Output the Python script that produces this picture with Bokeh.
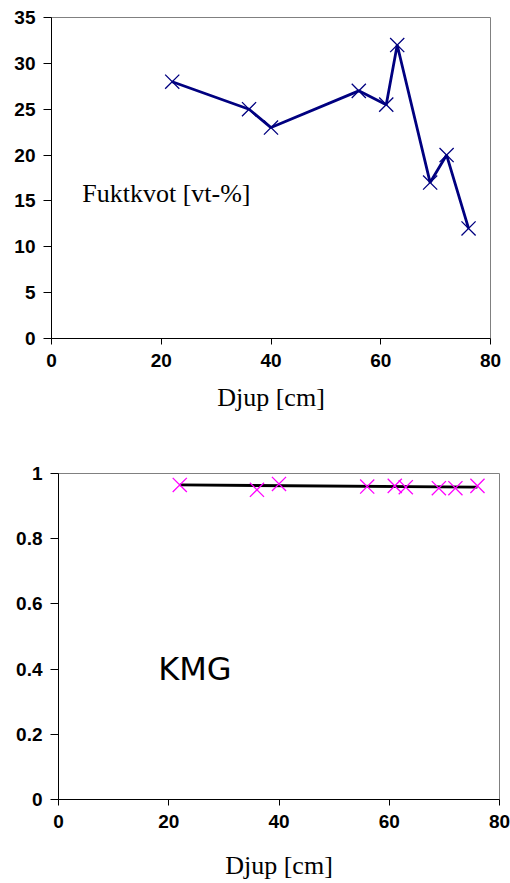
from bokeh.plotting import figure
from bokeh.models import Range1d, Label, FixedTicker
from bokeh.embed import file_html
from bokeh.resources import INLINE

# ---- data ----
depth = [22, 36, 40, 56, 61, 63, 69, 72, 76]
fuktkvot = [28, 25, 23, 27, 25.5, 32, 17, 20, 12]
kmg = [0.965, 0.95, 0.968, 0.96, 0.962, 0.958, 0.955, 0.955, 0.962]
trend_x = [22, 76]
trend_y = [0.965, 0.958]
x_ticks = [0, 20, 40, 60, 80]
y1_ticks = [0, 5, 10, 15, 20, 25, 30, 35]
y2_ticks = [0, 0.2, 0.4, 0.6, 0.8, 1]
y2_labels = {0: "0", 0.2: "0.2", 0.4: "0.4", 0.6: "0.6", 0.8: "0.8", 1: "1"}

TICK_FONT = "Liberation Sans"
LABEL_FONT = "Liberation Serif"


def style(p, yticks, label_standoff):
    p.outline_line_color = "#808080"
    p.outline_line_width = 1
    p.xgrid.visible = False
    p.ygrid.visible = False
    p.background_fill_color = "white"
    p.border_fill_color = "white"
    p.xaxis.ticker = FixedTicker(ticks=x_ticks)
    p.yaxis.ticker = FixedTicker(ticks=yticks)
    for ax in (p.xaxis[0], p.yaxis[0]):
        ax.axis_line_color = "black"
        ax.axis_line_width = 1
        ax.major_tick_line_color = "black"
        ax.major_tick_in = 0
        ax.minor_tick_line_color = None
        ax.major_label_text_font = TICK_FONT
        ax.major_label_text_font_style = "bold"
        ax.major_label_text_font_size = "19px"
        ax.major_label_text_color = "black"
    p.yaxis.major_tick_out = 8
    p.xaxis.major_tick_out = 6
    p.yaxis.major_label_standoff = 8
    p.xaxis.major_label_standoff = 9
    p.xaxis.axis_label = "Djup [cm]"
    p.xaxis.axis_label_text_font = LABEL_FONT
    p.xaxis.axis_label_text_font_style = "normal"
    p.xaxis.axis_label_text_font_size = "26px"
    p.xaxis.axis_label_text_color = "black"
    p.xaxis.axis_label_standoff = label_standoff


# ---- top chart ----
p1 = figure(width=510, height=430, output_backend="svg", toolbar_location=None,
            x_range=Range1d(0, 80), y_range=Range1d(0, 35),
            min_border_left=51, min_border_right=20, min_border_top=17,
            min_border_bottom=92)
style(p1, y1_ticks, 13)
p1.line(depth, fuktkvot, line_color="#000080", line_width=2.8)
p1.scatter(depth, fuktkvot, marker="x", size=20, line_color="#000080", line_width=1.3)
p1.add_layout(Label(x=5.6, y=15.8, text="Fuktkvot [vt-%]", text_font=LABEL_FONT,
                    text_font_size="26px", text_color="black",
                    text_baseline="middle", text_align="left"))

# ---- bottom chart ----
p2 = figure(width=510, height=453, output_backend="svg", toolbar_location=None,
            x_range=Range1d(0, 80), y_range=Range1d(0, 1),
            min_border_left=58, min_border_right=11, min_border_top=43,
            min_border_bottom=84)
style(p2, y2_ticks, 20)
p2.yaxis.major_label_overrides = y2_labels
p2.line(trend_x, trend_y, line_color="black", line_width=2.8)
p2.scatter(depth, kmg, marker="x", size=20, line_color="#FF00FF", line_width=1.3)
p2.add_layout(Label(x=18.1, y=0.40, text="KMG", text_font="DejaVu Sans",
                    text_font_size="32px", text_color="black",
                    text_baseline="middle", text_align="left"))

open("out.html", "w").write(file_html([p1, p2], INLINE))
